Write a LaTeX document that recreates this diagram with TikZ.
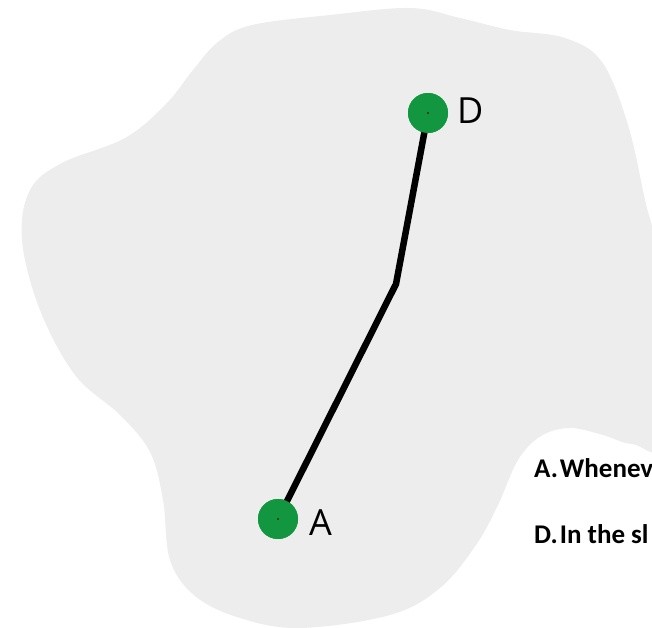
\documentclass[tikz,border=0pt]{standalone}
\usepackage{fontspec}
\setmainfont{Open Sans}
\newfontfamily\calib{Carlito}
\begin{document}
\begin{tikzpicture}[x=1pt,y=-1pt,
  blob/.style={fill=blobgray,draw=none},
  pt/.style={circle,fill=ptgreen,minimum size=40pt,inner sep=0pt},
  lbl/.style={font=\fontsize{36}{40}\selectfont,inner sep=0pt},
  opt/.style={font=\calib\bfseries\fontsize{27}{30}\selectfont,anchor=base west,inner sep=0pt},
  seg/.style={line width=6.5pt,black,line join=miter}]
\definecolor{blobgray}{HTML}{EDEDED}
\definecolor{ptgreen}{HTML}{12963F}
\useasboundingbox (0,0) rectangle (652,627);
\clip (0,0) rectangle (652,627);
\fill[blob] plot[smooth cycle, tension=0.6] coordinates {
 (410,8) (460,18) (510,30) (565,38) (602,62) (628,125) (645,200) (660,270) (670,440)
 (632,444) (603,435) (570,428) (541,436) (518,460) (498,505) (476,545) (440,588)
 (390,615) (300,628) (240,618) (195,596) (170,560) (163,500) (150,452) (120,415)
 (75,375) (40,310) (22,240) (30,190) (62,163) (125,138) (166,104) (193,70) (218,42)
 (252,25) (330,15)};
\coordinate (B) at (396,284);
\node[pt] (A) at (278,519) {};
\node[pt] (D) at (428,113) {};
\draw[seg] (A.center) -- (B) -- (D.center);
\node[pt] at (A) {};
\node[pt] at (D) {};
\fill (A) circle (0.8pt);
\fill (D) circle (0.8pt);
\node[lbl,anchor=west] (la) at (309,523) {A};
\node[lbl,anchor=west] (ld) at (457,111) {D};
\node[opt] (oa) at (534,477) {A.\hspace{2pt}Whenev};
\node[opt] (od) at (534,543) {D.\hspace{2pt}In the sl};
\end{tikzpicture}
\end{document}
